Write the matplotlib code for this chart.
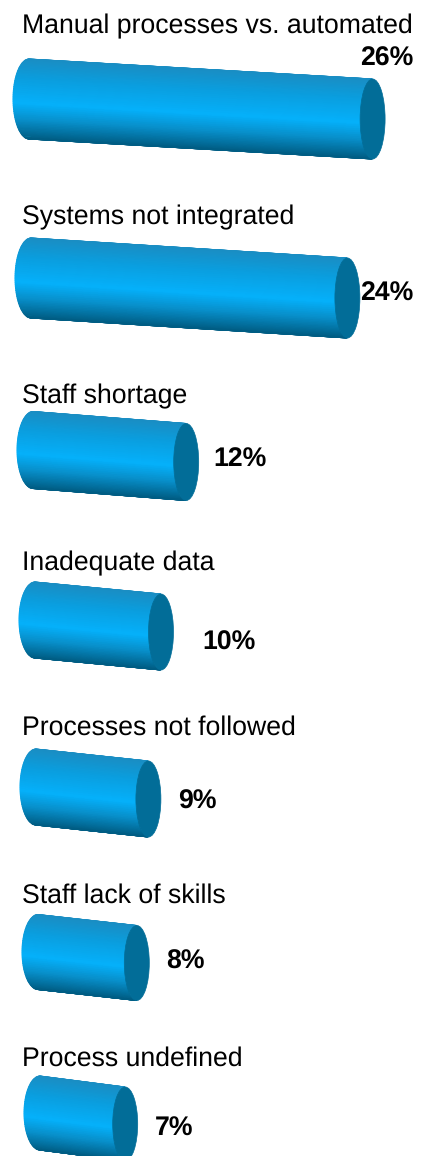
import numpy as np
import matplotlib
matplotlib.use('Agg')
import matplotlib.pyplot as plt
from matplotlib.colors import LinearSegmentedColormap
from matplotlib.patches import Ellipse

plt.rcParams['font.family'] = ['Liberation Sans', 'DejaVu Sans']
plt.rcParams['text.hinting'] = 'no_hinting'
plt.rcParams['text.hinting_factor'] = 8

# data
categories = ['Manual processes vs. automated', 'Systems not integrated', 'Staff shortage',
              'Inadequate data', 'Processes not followed', 'Staff lack of skills', 'Process undefined']
values = [26, 24, 12, 10, 9, 8, 7]
value_labels = ['26%', '24%', '12%', '10%', '9%', '8%', '7%']

# layout, in pixels of the picture
left_x = [29, 31, 33, 35, 36, 38, 40]
left_y = [99, 278, 450, 620, 787, 952, 1113]
right_y = [119, 298, 462, 632, 799, 963, 1124]
radius = [40, 40, 38.5, 38, 38, 37.5, 37]
label_y = [33, 224, 403, 570, 735, 903, 1066]
value_x = [360, 360, 213, 202, 178, 166, 155]
value_y = [66, 301, 467, 650, 809, 969, 1136]
px_per_pct = 13.6
back_width = 16
cap_width = 12.5

shade = LinearSegmentedColormap.from_list('cyl', [(0, '#1a8ec4'), (0.25, '#0a9fe0'), (0.55, '#05b1fb'),
                                                  (0.75, '#0891cc'), (1, '#005d84')])

fig = plt.figure(figsize=(4.3, 11.56), dpi=100)
ax = fig.add_axes([0, 0, 1, 1])
ax.axis('off')

angles = np.linspace(-np.pi / 2, np.pi / 2, 61)
for i, v in enumerate(values):
    x0 = left_x[i]
    x1 = left_x[i] + v * px_per_pct - 10
    X = np.array([x0 - back_width * np.cos(angles), x1 - cap_width * np.cos(angles)])
    Y = np.array([left_y[i] + radius[i] * np.sin(angles), right_y[i] + radius[i] * np.sin(angles)])
    C = np.array([(np.sin(angles) + 1) / 2, (np.sin(angles) + 1) / 2])
    ax.pcolormesh(X, Y, C, cmap=shade, shading='gouraud', vmin=0, vmax=1)
    ax.add_patch(Ellipse((x1, right_y[i]), cap_width * 2, radius[i] * 2, facecolor='#026d98', edgecolor='#026d98', lw=0.5))
    ax.text(22, label_y[i], categories[i], fontsize=19.2, color='black', va='baseline', ha='left')
    ax.text(value_x[i], value_y[i], value_labels[i], fontsize=19.2, fontweight='bold', color='black', va='baseline', ha='left')

ax.set_xlim(0, 430)
ax.set_ylim(1156, 0)
fig.savefig('out.png', dpi=100)
